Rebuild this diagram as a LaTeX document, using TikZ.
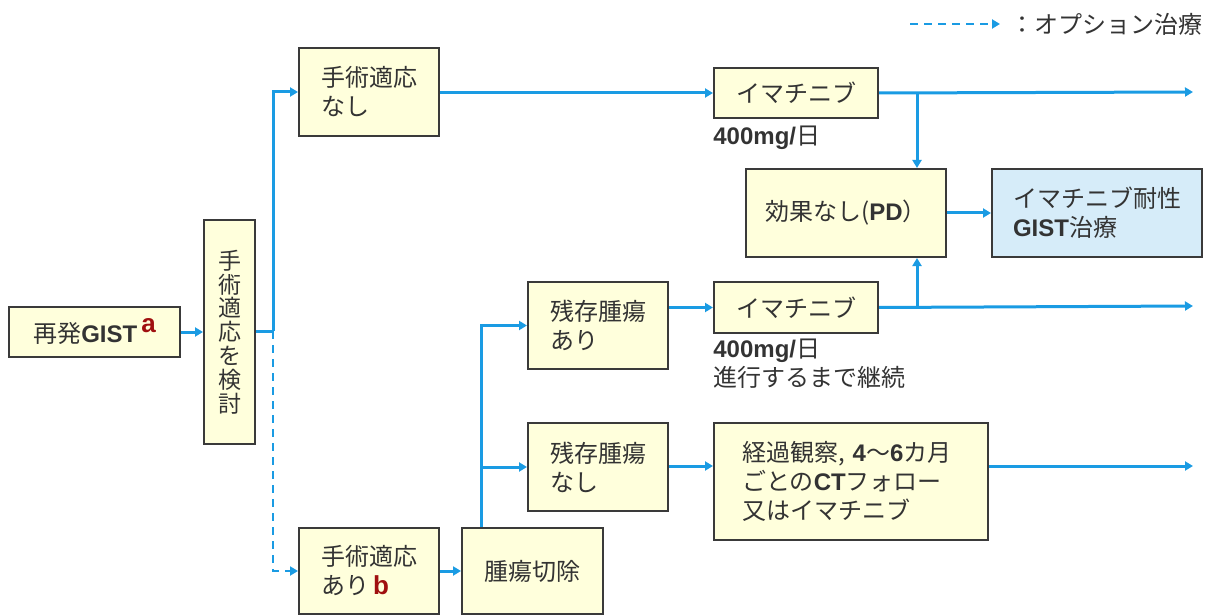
\documentclass[tikz,border=0pt]{standalone}
\usepackage{fontspec}
\setmainfont{Noto Sans CJK JP}
\newfontfamily\latf{Liberation Sans}
\usetikzlibrary{arrows.meta}
\definecolor{boxfill}{HTML}{FFFFDC}
\definecolor{boxline}{HTML}{3A3A3A}
\definecolor{bluefill}{HTML}{D6ECF9}
\definecolor{conncol}{HTML}{1A9BE3}
\definecolor{txt}{HTML}{333333}
\definecolor{mark}{HTML}{A01010}
\newcommand{\La}[1]{{\latf\bfseries #1}}
\newcommand{\Mk}[1]{\textcolor{mark}{\latf\bfseries\fontsize{13}{13}\selectfont #1}}
\tikzset{
  box/.style={draw=boxline, fill=boxfill, line width=1pt, anchor=north west,
    inner xsep=11pt, inner ysep=0pt, align=left, text=txt,
    font=\fontsize{12}{14.5}\selectfont},
  cbox/.style={box, align=center, inner xsep=0pt},
  conn/.style={draw=conncol, line width=1.5pt, -{Triangle[length=4pt,width=4.5pt]}},
  line/.style={draw=conncol, line width=1.5pt},
  opt/.style={draw=conncol, line width=1.2pt, dash pattern=on 4pt off 3pt,
    -{Triangle[length=4pt,width=4.5pt]}},
  lab/.style={anchor=north west, inner sep=0pt, align=left, text=txt,
    font=\fontsize{12}{14.5}\selectfont}
}
\begin{document}
\begin{tikzpicture}[x=0.5pt,y=-0.5pt]
\useasboundingbox (0,0) rectangle (1206,615);
% boxes
\node[cbox, minimum width=85.5pt, minimum height=25pt] (gist) at (8,306) {再発\La{GIST}\,\raisebox{5pt}{\Mk{a}}};
\node[cbox, minimum width=25.5pt, minimum height=112pt, font=\fontsize{11.5}{11.9}\selectfont] (kento) at (203,219) {手\\術\\適\\応\\を\\検\\討};
\node[box, minimum width=70pt, minimum height=44pt, text width=48pt] (nashi) at (298,47) {手術適応\\なし};
\node[box, minimum width=70pt, minimum height=43pt, text width=48pt] (ari) at (298,527) {手術適応\\あり\,\Mk{b}};
\node[cbox, minimum width=70.5pt, minimum height=43pt] (setsujo) at (461,527) {腫瘍切除};
\node[box, minimum width=70pt, minimum height=43.5pt, text width=48pt] (zanari) at (527,281) {残存腫瘍\\あり};
\node[box, minimum width=70pt, minimum height=44pt, text width=48pt] (zannashi) at (527,422) {残存腫瘍\\なし};
\node[cbox, minimum width=82pt, minimum height=25pt] (ima1) at (713,67) {イマチニブ};
\node[cbox, minimum width=82pt, minimum height=25.5pt] (ima2) at (713,281) {イマチニブ};
\node[cbox, minimum width=100pt, minimum height=44pt] (pd) at (745,168) {効果なし(\La{PD}）};
\node[box, fill=bluefill, minimum width=105pt, minimum height=44pt, inner xsep=10.5pt, text width=84pt] (taisei) at (991,168) {イマチニブ耐性\\\La{GIST}治療};
\node[box, minimum width=137pt, minimum height=58.5pt, inner xsep=14pt, text width=109pt] (keika) at (713,422) {経過観察, \La{4}〜\La{6}カ月\\ごとの\La{CT}フォロー\\又はイマチニブ};
% labels
\node[lab] (dose1) at (713,126) {\La{400mg/}日};
\node[lab] (dose2) at (713,339) {\La{400mg/}日\\進行するまで継続};
% junction coordinates
\coordinate (j1) at (273,331);
\coordinate (j2x) at (481,0);
\coordinate (j3x) at (917,0);
\coordinate (e1) at (1193,92);
\coordinate (e2) at (1193,306);
\coordinate (e3) at (1193,466);
% connectors
\draw[conn] (gist.east) -- (gist.east -| kento.west);
\draw[line] (kento.east |- j1) -- (j1);
\draw[conn] (j1) |- (nashi.west);
\draw[opt] (j1) |- (ari.west);
\draw[conn] (ari.east) -- (ari.east -| setsujo.west);
\draw[conn] (setsujo.north -| j2x) |- (zanari.west);
\draw[conn] (j2x |- zannashi.west) -- (zannashi.west);
\draw[conn] (nashi.east |- ima1.west) -- (ima1.west);
\draw[conn] (ima2.west -| zanari.east) -- (ima2.west);
\draw[conn] (zannashi.east |- e3) -- (keika.west |- e3);
\draw[conn] (ima1.east) -- (e1);
\draw[conn] (ima2.east) -- (e2);
\draw[conn] (keika.east |- e3) -- (e3);
\draw[conn] (j3x |- ima1.east) -- (j3x |- pd.north);
\draw[conn] (j3x |- ima2.east) -- (j3x |- pd.south);
\draw[conn] (pd.east) -- (taisei.west);
% legend
\coordinate (l1) at (910,24);
\node[anchor=west, inner sep=0pt, text=txt, font=\fontsize{12}{12}\selectfont] (legend) at (1010,24) {：オプション治療};
\draw[opt] (l1) -- (legend.west -| 1000,0);
\end{tikzpicture}
\end{document}
